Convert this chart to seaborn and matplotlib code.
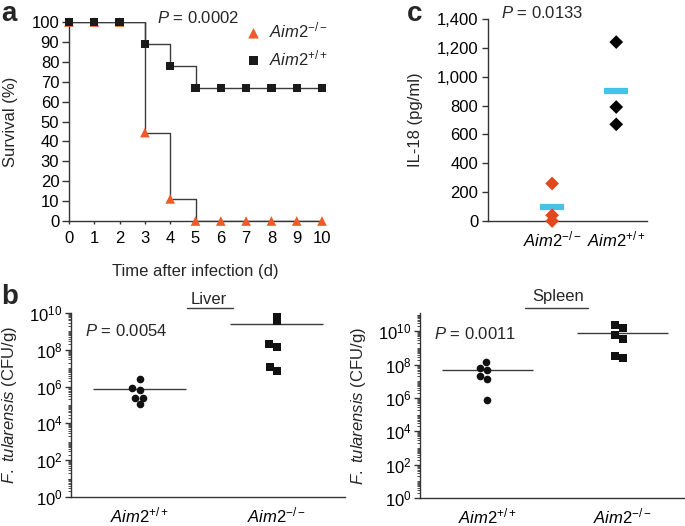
import numpy as np
import pandas as pd
import seaborn as sns
import matplotlib
matplotlib.use("Agg")
import matplotlib.pyplot as plt
from matplotlib.lines import Line2D
from matplotlib.ticker import LogLocator, FixedLocator, NullFormatter, LogFormatterSciNotation

# ---- data ----
days = [0, 1, 2, 3, 4, 5, 6, 7, 8, 9, 10]
surv_ko = [100, 100, 100, 44.4, 11.1, 0, 0, 0, 0, 0, 0]
surv_wt = [100, 100, 100, 88.9, 77.8, 66.7, 66.7, 66.7, 66.7, 66.7, 66.7]

il18_ko = [260, 40, 0]
il18_wt = [1240, 790, 670]

liver_wt = [2.5e6, 8.7e5, 6.3e5, 2.5e5, 2.3e5, 1.07e5]
liver_ko = [1.05e10, 3.5e9, 2.1e8, 1.5e8, 1.2e7, 6.9e6]
spleen_wt = [1.4e8, 6.6e7, 5.0e7, 2.0e7, 1.4e7, 7.6e5]
spleen_ko = [2.5e10, 1.6e10, 5.8e9, 3.6e9, 2.6e8, 3.2e8]

KO = r"$\mathit{Aim2}^{-/-}$"
WT = r"$\mathit{Aim2}^{+/+}$"

RED = "#EF5A29"
RED_D = "#E2471E"
CYAN = "#44C4E4"
LINE = "#3c3c3c"

sns.set_style("ticks")
plt.rcParams.update({
    "font.family": ["Liberation Sans", "DejaVu Sans"],
    "font.size": 12,
    "mathtext.fontset": "custom",
    "mathtext.rm": "Liberation Sans",
    "mathtext.it": "Liberation Sans:italic",
    "mathtext.bf": "Liberation Sans:bold",
    "axes.edgecolor": "#333333",
    "axes.linewidth": 1.0,
    "xtick.color": "#333333",
    "ytick.color": "#333333",
    "xtick.labelcolor": "black",
    "ytick.labelcolor": "black",
    "xtick.labelsize": 12,
    "ytick.labelsize": 12,
    "axes.labelsize": 12,
})

W, H = 685, 526
fig = plt.figure(figsize=(W / 100, H / 100), dpi=100)


def box(x0, y0, x1, y1):
    # pixel box -> figure fraction rect
    return [x0 / W, 1 - y1 / H, (x1 - x0) / W, (y1 - y0) / H]


def ftext(x, y, s, **kw):
    fig.text(x / W, 1 - y / H, s, **kw)


def fline(x0, x1, y):
    fig.add_artist(Line2D([x0 / W, x1 / W], [1 - y / H, 1 - y / H],
                          transform=fig.transFigure, color=LINE, lw=1.0))


# ---------------- panel a: survival ----------------
ax_a = fig.add_axes(box(69, 22, 322, 221))
sns.lineplot(x=days, y=surv_ko, drawstyle="steps-post", color=LINE, lw=1.0, ax=ax_a)
sns.lineplot(x=days, y=surv_wt, drawstyle="steps-post", color=LINE, lw=1.0, ax=ax_a)
sns.scatterplot(x=days, y=surv_ko, marker="^", s=48, color=RED, edgecolor="none",
                clip_on=False, zorder=3, label=KO, ax=ax_a)
sns.scatterplot(x=days, y=surv_wt, marker="s", s=36, color="#1a1a1a", edgecolor="none",
                clip_on=False, zorder=4, label=WT, ax=ax_a)
ax_a.set_xlim(0, 10)
ax_a.set_ylim(0, 100)
ax_a.set_xticks(days)
ax_a.set_yticks(range(0, 101, 10))
ax_a.tick_params(axis="y", length=5, width=1.0, pad=2)
ax_a.tick_params(axis="x", length=2.5, width=1.0, pad=4.5)
ax_a.set_xlabel("Time after infection (d)")
ax_a.set_ylabel("Survival (%)")
ax_a.xaxis.set_label_coords(0.5, -0.215)
ax_a.yaxis.set_label_coords(-0.202, 0.5)
sns.despine(ax=ax_a)
ax_a.legend(loc="upper left", bbox_to_anchor=(0.67, 1.04), frameon=False,
            handlelength=1.0, handletextpad=0.45, labelspacing=0.45,
            borderaxespad=0, fontsize=12, markerscale=1.1)
ftext(157, 18, r"$P$ = 0.0002", ha="left", va="center")

# ---------------- panel c: IL-18 ----------------
ax_c = fig.add_axes(box(488, 19, 647, 221))
cats = ["ko"] * len(il18_ko) + ["wt"] * len(il18_wt)
df_c = pd.DataFrame({"geno": cats, "val": il18_ko + il18_wt})
sns.stripplot(data=df_c, x="geno", y="val", hue="geno", order=["ko", "wt"],
              palette={"ko": RED_D, "wt": "black"}, jitter=False, marker="D",
              size=7, linewidth=0, legend=False, clip_on=False, zorder=3, ax=ax_c)
sns.pointplot(data=df_c, x="geno", y="val", order=["ko", "wt"], estimator="mean",
              errorbar=None, color=CYAN, marker="_", linestyle="none",
              markersize=17, markeredgewidth=4.5, ax=ax_c)
ax_c.set_xlim(-1.0, 1.48)
ax_c.set_ylim(0, 1400)
ax_c.set_yticks(range(0, 1401, 200))
ax_c.set_yticklabels([f"{v:,}" for v in range(0, 1401, 200)])
ax_c.set_xticks([0, 1])
ax_c.set_xticklabels([KO, WT])
ax_c.tick_params(axis="x", length=0, pad=6)
ax_c.tick_params(axis="y", length=4, width=1.0, pad=3)
ax_c.set_xlabel("")
ax_c.set_ylabel("IL-18 (pg/ml)")
ax_c.yaxis.set_label_coords(-0.41, 0.5)
sns.despine(ax=ax_c)
ftext(501, 13, r"$P$ = 0.0133", ha="left", va="center")


# ---------------- panel b: bacterial burden ----------------
def burden(rect, wt_vals, ko_vals, ytop, label_x):
    ax = fig.add_axes(box(*rect))
    order = ["wt", "ko"]
    sns.swarmplot(x=["wt"] * len(wt_vals), y=wt_vals, order=order, log_scale=True,
                  marker="o", color="#111111", size=5.5, linewidth=0, ax=ax)
    sns.swarmplot(x=["ko"] * len(ko_vals), y=ko_vals, order=order, log_scale=True,
                  marker="s", color="#111111", size=5.5, linewidth=0, ax=ax)
    for i, vals in enumerate([wt_vals, ko_vals]):
        ax.hlines(np.mean(vals), i - 0.34, i + 0.34, color=LINE, lw=1.0, zorder=1)
    ax.set_yscale("log")
    ax.set_ylim(1, ytop)
    ax.set_xlim(-0.5, 1.5)
    ax.yaxis.set_major_locator(FixedLocator([10.0 ** k for k in range(0, 11, 2)]))
    ax.yaxis.set_major_formatter(LogFormatterSciNotation())
    ax.yaxis.set_minor_locator(LogLocator(base=10, subs=np.arange(1, 10), numticks=100))
    ax.yaxis.set_minor_formatter(NullFormatter())
    ax.tick_params(axis="y", which="major", length=4, width=1.0, pad=2)
    ax.tick_params(axis="y", which="minor", length=2.5, width=0.6)
    ax.set_xticks([0, 1])
    ax.set_xticklabels([WT, KO])
    ax.tick_params(axis="x", length=0, pad=6)
    ax.set_xlabel("")
    ax.set_ylabel(r"$\mathit{F.\ tularensis}$ (CFU/g)")
    ax.yaxis.set_label_coords(label_x, 0.5)
    sns.despine(ax=ax)
    return ax


ax_l = burden((71, 313, 345, 497), liver_wt, liver_ko, 1e10, -0.188)
ax_s = burden((420, 313, 690, 498), spleen_wt, spleen_ko, 10 ** 11.1, -0.193)

ftext(85, 331, r"$P$ = 0.0054", ha="left", va="center")
ftext(434, 334, r"$P$ = 0.0011", ha="left", va="center")
ftext(209, 299, "Liver", ha="center", va="center")
fline(187, 233, 308)
ftext(558, 296, "Spleen", ha="center", va="center")
fline(525, 588, 308)

# panel letters
ftext(9, 14, "a", ha="center", va="center", fontsize=20, fontweight="bold")
ftext(10, 297, "b", ha="center", va="center", fontsize=20, fontweight="bold")
ftext(415, 14, "c", ha="center", va="center", fontsize=20, fontweight="bold")

fig.savefig("out.png", dpi=100)
